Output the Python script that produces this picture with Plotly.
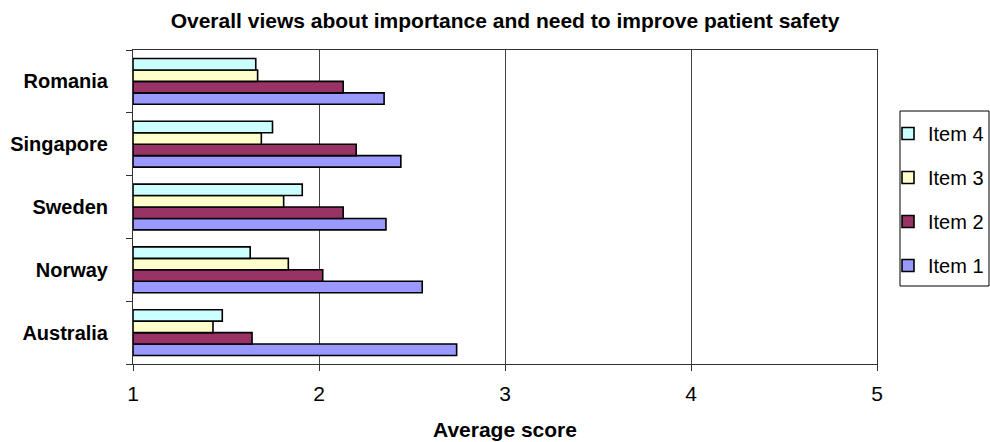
import plotly.graph_objects as go

# Average scores per country for the four survey items
countries = ["Australia", "Norway", "Sweden", "Singapore", "Romania"]
item1 = [2.74, 2.555, 2.36, 2.44, 2.35]
item2 = [1.64, 2.02, 2.13, 2.20, 2.13]
item3 = [1.43, 1.835, 1.81, 1.69, 1.67]
item4 = [1.48, 1.63, 1.91, 1.75, 1.66]
series_names = ["Item 1", "Item 2", "Item 3", "Item 4"]
x_ticks = [1, 2, 3, 4, 5]

AXIS_MIN = 1
colors = ["#9999FF", "#993366", "#FFFFCC", "#CCFFFF"]
FONT = "Liberation Sans, Arial, sans-serif"

W, H = 990, 442
L, R, T, B = 133, 113, 50, 78
plot_w, plot_h = W - L - R, H - T - B


def px_x(px):
    return (px - L) / plot_w


def px_y(py):
    return (H - B - py) / plot_h


fig = go.Figure()
n = len(series_names)
for i, (name, vals, col) in enumerate(zip(series_names, [item1, item2, item3, item4], colors)):
    fig.add_trace(go.Bar(
        y=countries,
        x=[v - AXIS_MIN for v in vals],
        base=AXIS_MIN,
        name=name,
        legendgroup=name,
        legendrank=(n - i) * 100,   # last series listed first
        orientation="h",
        marker=dict(color=col, line=dict(color="black", width=1.6)),
    ))

# frame around the legend entries
fig.add_shape(
    type="rect", xref="paper", yref="paper",
    x0=px_x(900), x1=px_x(989), y0=px_y(111), y1=px_y(286),
    line=dict(color="black", width=1), fillcolor="white", layer="below",
)

fig.update_layout(
    width=W, height=H,
    margin=dict(l=L, r=R, t=T, b=B, autoexpand=False),
    paper_bgcolor="white", plot_bgcolor="white",
    barmode="group", bargap=0.27, bargroupgap=0,
    font=dict(family=FONT, color="black", size=20),
    title=dict(
        text="<b>Overall views about importance and need to improve patient safety</b>",
        font=dict(size=21, family=FONT, color="black"),
        x=0.5, xref="paper", xanchor="center",
        y=1 - 21 / H, yref="container", yanchor="middle",
    ),
    legend=dict(
        traceorder="grouped",
        x=px_x(888), xanchor="left", y=px_y(114), yanchor="top",
        borderwidth=0, bgcolor="rgba(0,0,0,0)",
        font=dict(size=20, family=FONT),
        tracegroupgap=15,
    ),
    showlegend=True,
)

fig.update_xaxes(
    range=[1, 5], tickvals=x_ticks, ticktext=[str(t) for t in x_ticks],
    showgrid=True, gridcolor="#444444", gridwidth=1,
    showline=True, linecolor="#333333", linewidth=1, mirror=True,
    ticks="outside", ticklen=6, tickcolor="#333333",
    tickfont=dict(size=21, family=FONT),
    ticklabelstandoff=5, zeroline=False,
    title=dict(text="<b>Average score</b>", font=dict(size=21, family=FONT), standoff=18),
)
fig.update_yaxes(
    showgrid=False,
    showline=True, linecolor="#333333", linewidth=1, mirror=True,
    ticks="outside", ticklen=6, tickcolor="#333333", tickson="boundaries",
    tickfont=dict(size=20, family=FONT),
    ticklabelstandoff=20,
    tickprefix="<b>", ticksuffix="</b>",
)

fig.write_html("out.html")
